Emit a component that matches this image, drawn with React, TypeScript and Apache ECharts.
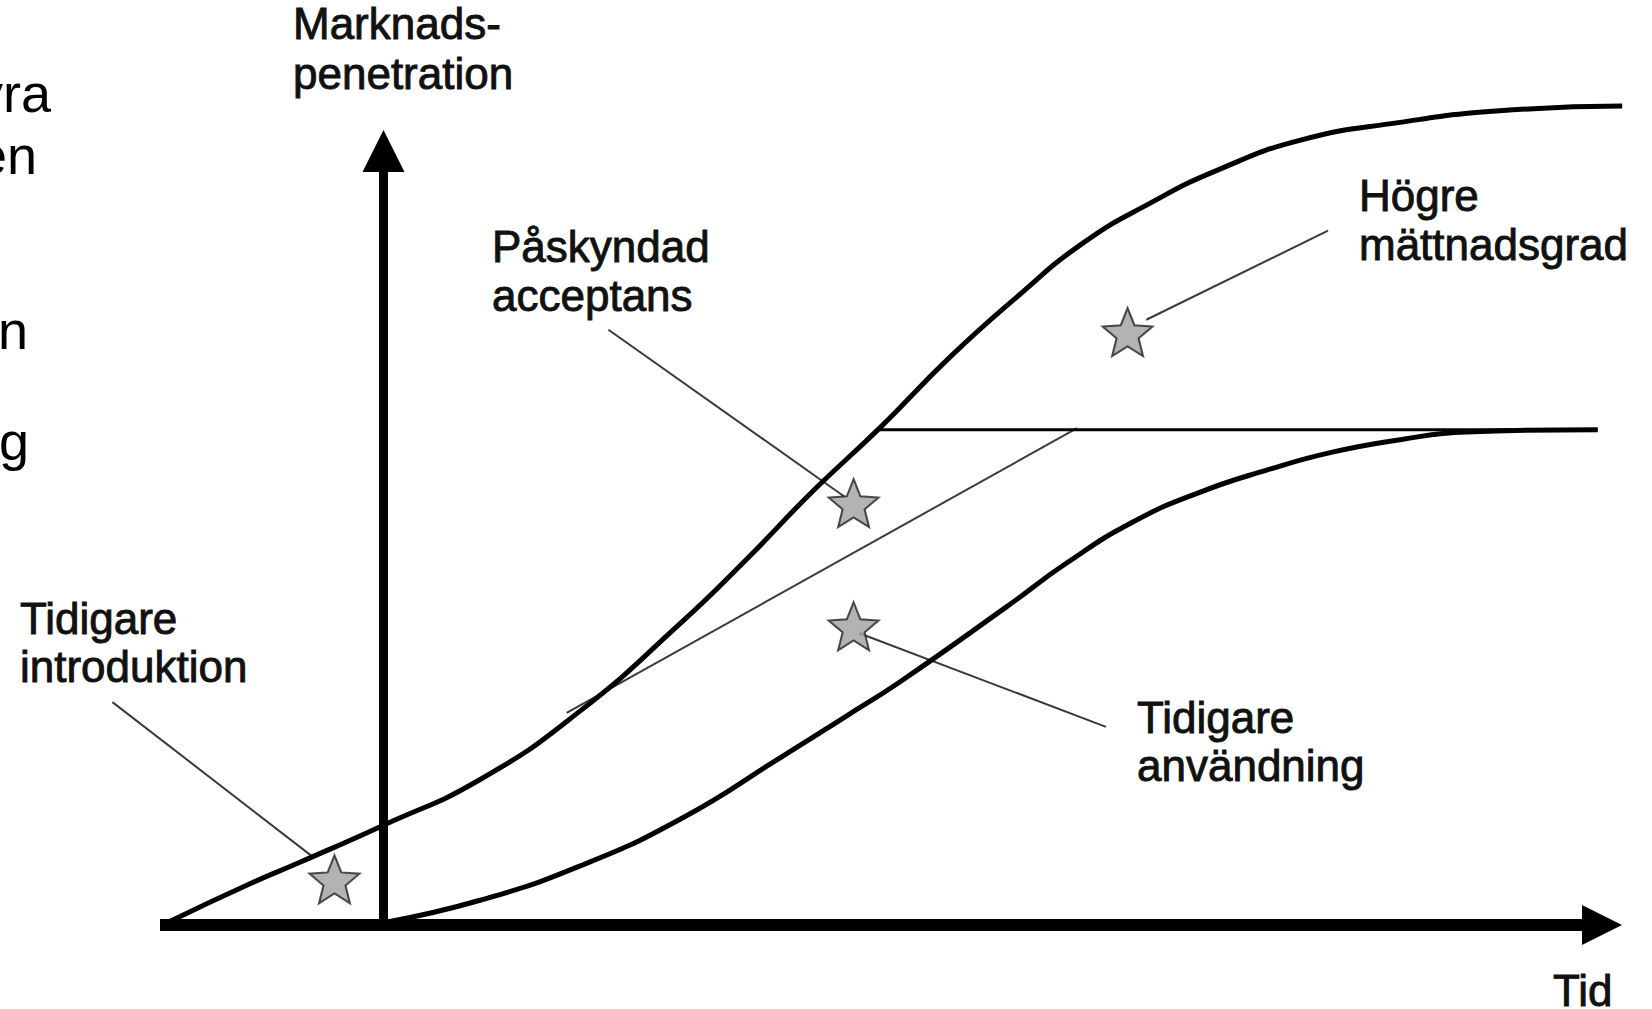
import React, { useEffect, useRef } from "react";
import * as echarts from "echarts";

// Axis ranges (time on x, market penetration on y)
const xRange = [-15.5, 84.5];
const yRange = [0, 100];

// Curves: [time, penetration]
const earlyCurve = [
  [-14.9, 0.4], [-9.3, 5.3], [-5.8, 8.1], [0, 12.9], [6.7, 18.8], [13.6, 27.6],
  [20.6, 39.0], [25.2, 47.3], [29.8, 56.1], [34.4, 64.2], [39.3, 73.4], [43.9, 81.1],
  [48.5, 88.1], [53.2, 93.3], [57.8, 97.5], [63.6, 101.4], [70.5, 103.7], [77.4, 105.2],
  [85.9, 105.8],
];
const baseCurve = [
  [0, 0.3], [6.7, 3.2], [13.6, 7.6], [20.6, 13.7], [27.5, 21.6], [32.1, 27.0],
  [35.8, 31.4], [43.2, 41.1], [47.4, 46.8], [52.0, 52.1], [56.6, 55.9], [61.3, 58.8],
  [65.8, 61.1], [70.5, 62.7], [75.1, 63.7], [84.2, 64.0],
];
const saturationLine = [[34.4, 64.0], [84.2, 64.0]];
const tangentLine = [[12.7, 27.4], [48.1, 64.2]];

// Stars and their leader lines
const starPoints = [[-3.4, 5.9], [32.6, 54.5], [32.6, 38.6], [51.6, 76.6]];
const leaderIntro = [[-18.8, 28.8], [-4.9, 8.8]];
const leaderAccept = [[15.6, 76.9], [32.0, 55.3]];
const leaderUsage = [[33.0, 37.7], [50.1, 25.6]];
const leaderSaturation = [[52.9, 78.2], [65.5, 89.7]];

// Texts
const yAxisTitle = ["Marknads-", "penetration"];
const xAxisTitle = "Tid";
const labelIntro = ["Tidigare", "introduktion"];
const labelAccept = ["Påskyndad", "acceptans"];
const labelSaturation = ["Högre", "mättnadsgrad"];
const labelUsage = ["Tidigare", "användning"];
const sideFragments = ["yra", "en", "n", "g"];

const STAR =
  "path://M50,0 L62.93,32.2 L97.55,34.55 L70.92,56.8 L79.39,90.45 L50,72 L20.61,90.45 L29.08,56.8 L2.45,34.55 L37.07,32.2 Z";

const W = 1652;
const H = 1009;
const FONT = "44px 'Liberation Sans', Arial, sans-serif";
const TEXT_COLOR = "#111";

function textEl(
  text: string,
  x: number,
  y: number,
  font = FONT,
  align = "left",
  fill = TEXT_COLOR,
  strokeWidth = 0.9
) {
  return {
    type: "text",
    x,
    y,
    silent: true,
    style: {
      text,
      font,
      fill,
      stroke: strokeWidth > 0 ? fill : undefined,
      lineWidth: strokeWidth,
      align,
      textAlign: align,
      verticalAlign: "middle",
      textVerticalAlign: "middle",
    },
  };
}

function lineSeries(data: number[][], width: number, color: string, smooth: number | boolean = false, z = 2) {
  return {
    type: "line",
    xAxisIndex: 1,
    yAxisIndex: 1,
    data,
    smooth,
    showSymbol: false,
    symbol: "none",
    clip: false,
    silent: true,
    z,
    lineStyle: { color, width, cap: "butt" },
  };
}

export default function App() {
  const ref = useRef<HTMLDivElement>(null);

  useEffect(() => {
    document.body.style.margin = "0";
    const chart = echarts.init(ref.current!, null, { renderer: "svg" });

    // visible axes grid
    const g0 = { left: 160, right: 50, top: 151, bottom: 84 };
    // larger invisible grid with the same scale for the marks
    const g1 = { left: 100, right: 0, top: 90, bottom: 84 };
    const kx = (xRange[1] - xRange[0]) / (W - g0.left - g0.right);
    const ky = (yRange[1] - yRange[0]) / (H - g0.top - g0.bottom);
    const x1min = xRange[0] - (g0.left - g1.left) * kx;
    const x1max = xRange[1] + (g0.right - g1.right) * kx;
    const y1max = yRange[1] + (g0.top - g1.top) * ky;

    const graphics: any[] = [];
    graphics.push(textEl(yAxisTitle[0], 293, 23));
    graphics.push(textEl(yAxisTitle[1], 293, 73));
    graphics.push(textEl(labelAccept[0], 492, 246));
    graphics.push(textEl(labelAccept[1], 492, 295));
    graphics.push(textEl(labelIntro[0], 20, 618));
    graphics.push(textEl(labelIntro[1], 20, 666));
    graphics.push(textEl(labelSaturation[0], 1359, 195));
    graphics.push(textEl(labelSaturation[1], 1359, 244));
    graphics.push(textEl(labelUsage[0], 1137, 717));
    graphics.push(textEl(labelUsage[1], 1137, 765));
    graphics.push(textEl(xAxisTitle, 1553, 990));
    const fragFont = "54px 'Liberation Sans', Arial, sans-serif";
    const fragPos = [
      [51, 93],
      [37, 155],
      [28, 330],
      [29, 441],
    ];
    sideFragments.forEach((t, i) => {
      graphics.push(textEl(t, fragPos[i][0], fragPos[i][1], fragFont, "right", "#000", 0));
    });

    const hiddenAxis = {
      type: "value",
      show: false,
      axisLine: { show: false },
      axisTick: { show: false },
      axisLabel: { show: false },
      splitLine: { show: false },
    };
    const axisCommon = {
      type: "value",
      axisTick: { show: false },
      axisLabel: { show: false },
      splitLine: { show: false },
    };

    chart.setOption({
      animation: false,
      backgroundColor: "#ffffff",
      grid: [
        { ...g0, containLabel: false },
        { ...g1, containLabel: false },
      ],
      xAxis: [
        {
          ...axisCommon,
          gridIndex: 0,
          min: xRange[0],
          max: xRange[1],
          axisLine: {
            show: true,
            onZero: true,
            symbol: ["none", "triangle"],
            symbolSize: [40, 40],
            lineStyle: { color: "#000", width: 12, cap: "butt" },
          },
        },
        { ...hiddenAxis, gridIndex: 1, min: x1min, max: x1max },
      ],
      yAxis: [
        {
          ...axisCommon,
          gridIndex: 0,
          min: yRange[0],
          max: yRange[1],
          axisLine: {
            show: true,
            onZero: true,
            symbol: ["none", "triangle"],
            symbolSize: [42, 42],
            lineStyle: { color: "#000", width: 9, cap: "butt" },
          },
        },
        { ...hiddenAxis, gridIndex: 1, min: yRange[0], max: y1max },
      ],
      graphic: graphics,
      series: [
        lineSeries(earlyCurve, 5, "#000", 0.5, 3),
        lineSeries(baseCurve, 5, "#000", 0.5, 3),
        lineSeries(saturationLine, 3, "#000", false, 3),
        lineSeries(tangentLine, 2, "#3a3a3a", false, 2),
        lineSeries(leaderIntro, 2, "#3a3a3a", false, 2),
        lineSeries(leaderAccept, 2, "#3a3a3a", false, 2),
        lineSeries(leaderUsage, 2, "#3a3a3a", false, 2),
        lineSeries(leaderSaturation, 2, "#3a3a3a", false, 2),
        {
          type: "scatter",
          xAxisIndex: 1,
          yAxisIndex: 1,
          data: starPoints,
          symbol: STAR,
          symbolSize: [50, 48],
          clip: false,
          silent: true,
          z: 5,
          itemStyle: { color: "#a0a0a0", borderColor: "#222", borderWidth: 2 },
        },
      ],
    });
    return () => chart.dispose();
  }, []);

  return (
    <div
      ref={ref}
      style={{ position: "fixed", left: 0, top: 0, width: W, height: H, background: "#fff" }}
    />
  );
}
